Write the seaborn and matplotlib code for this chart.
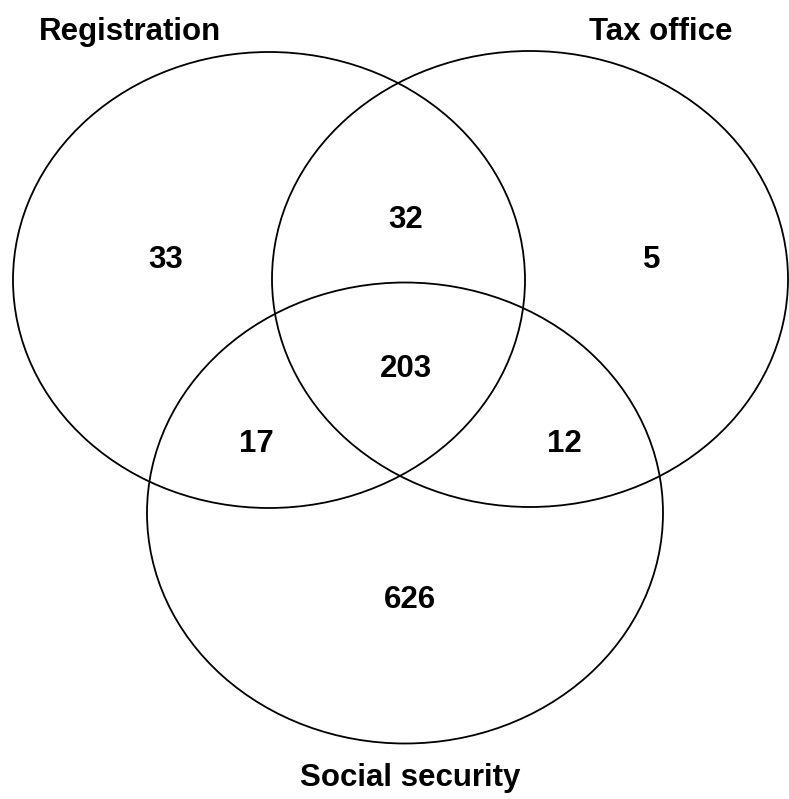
import numpy as np
import matplotlib.pyplot as plt
import seaborn as sns
from matplotlib.patches import Ellipse

# sets and region counts
set_names = ['Registration', 'Tax office', 'Social security']
regions = ['R only', 'R&T', 'T only', 'R&T&S', 'R&S', 'T&S', 'S only']
counts = [33, 32, 5, 203, 17, 12, 626]

# ellipse layout (pixel space of the image)
ell_x = [269, 530, 405]
ell_y = [280, 279, 513]
ell_w = [512, 516, 516]
ell_h = [456, 456, 461]

name_x = [130, 661, 410]
name_y = [32, 32, 778]
count_x = [166, 406, 652, 406, 256, 564, 410]
count_y = [260, 220, 260, 369, 444, 444, 600]

sns.set_theme(style="white")
plt.rcParams['font.family'] = ['Liberation Sans', 'DejaVu Sans']

fig = plt.figure(figsize=(7.89, 7.99), dpi=100)
ax = fig.add_axes([0, 0, 1, 1])
ax.set_xlim(0, 789)
ax.set_ylim(799, 0)
ax.axis('off')

for x, y, w, h in zip(ell_x, ell_y, ell_w, ell_h):
    ax.add_patch(Ellipse((x, y), w, h, fill=False, edgecolor='black', lw=1.3))

for name, x, y in zip(set_names, name_x, name_y):
    ax.text(x, y, name, ha='center', va='center', fontsize=22.5, fontweight='bold', color='black')

for c, x, y in zip(counts, count_x, count_y):
    ax.text(x, y, str(c), ha='center', va='center', fontsize=22.5, fontweight='bold', color='black')

fig.savefig('out.png', dpi=100)
